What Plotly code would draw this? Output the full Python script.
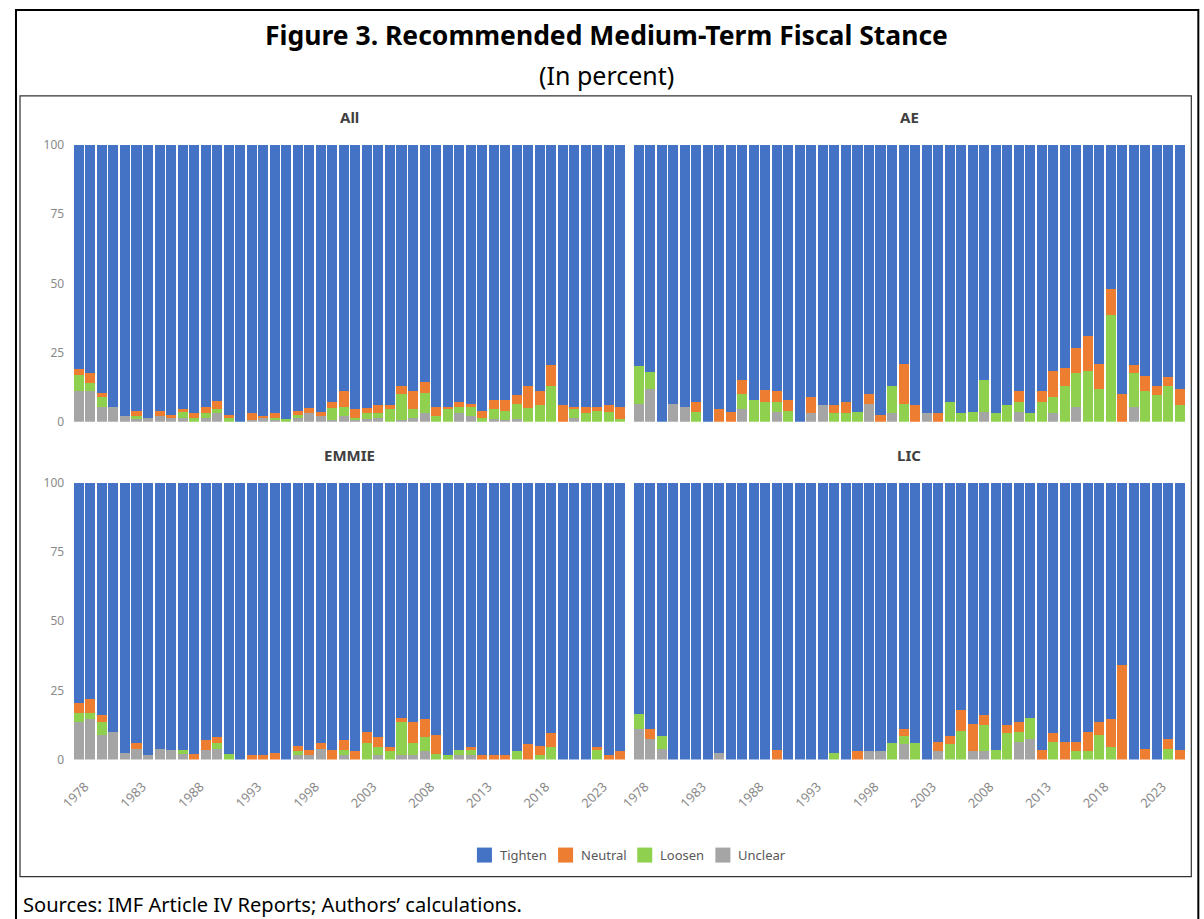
import plotly.graph_objects as go

W, H = 1204, 919

years = list(range(1978, 2026))
tick_years = [1978, 1983, 1988, 1993, 1998, 2003, 2008, 2013, 2018, 2023]
tick_labels = [str(y) for y in tick_years]
y_ticks = [0, 25, 50, 75, 100]

# ---- All ----
all_unclear = [11, 11, 5.5, 5.5, 2, 1, 1.5, 2, 1.5, 1.5, 0, 1.5, 3, 0, 0, 0.5, 1.5, 0.5, 0, 1.5, 3, 2, 0.5, 2,
               0.5, 1, 1.5, 0, 0.5, 1.5, 3, 0, 0, 3, 2, 0, 1, 0.5, 1, 0, 0, 0, 0, 1.5, 0, 0, 0, 0]
all_loosen = [6, 3, 3.5, 0, 0, 1, 0, 0, 0, 2, 1.5, 1.5, 1.5, 1.5, 0, 0, 0, 1, 1, 1, 0, 0, 4.5, 3.5,
              1, 2, 1.5, 4.5, 9.5, 3, 7.5, 2, 5, 2.5, 3.5, 1.5, 3.5, 3.5, 5.5, 5, 6, 13, 0, 3, 3, 4, 3.5, 1]
all_neutral = [2, 3.5, 1.5, 0, 0, 2, 0, 2, 1, 1, 1.5, 2.5, 3, 1, 0, 2.5, 0.5, 1.5, 0, 1.5, 2, 1.5, 2, 5.5,
               3, 2, 3, 1.5, 3, 6.5, 4, 3.5, 0.5, 1.5, 1, 2.5, 3.5, 4, 3, 8, 5, 7.5, 6, 1, 2.5, 1.5, 2.5, 4.5]
all_tighten = [81, 82.5, 89.5, 94.5, 98, 96, 98.5, 96, 97.5, 95.5, 97, 94.5, 92.5, 97.5, 100, 97, 98, 97, 99, 96, 95, 96.5, 93, 89,
               95.5, 95, 94, 94, 87, 89, 85.5, 94.5, 94.5, 93, 93.5, 96, 92, 92, 90.5, 87, 89, 79.5, 94, 94.5, 94.5, 94.5, 94, 94.5]

# ---- AE ----
ae_unclear = [6.5, 12, 0, 6.5, 5.5, 0, 0, 0, 0, 4.5, 0, 0, 3.5, 0, 0, 3, 6, 0, 0, 0, 6.5, 0, 3, 0,
              0, 3, 0, 0, 0, 0, 3.5, 0, 0, 3.5, 0, 0, 3, 0, 5.5, 0, 0, 0, 0, 5.5, 0, 0, 0, 0]
ae_loosen = [13.5, 6, 0, 0, 0, 3.5, 0, 0, 0, 5.5, 8, 7, 3.5, 4, 0, 0, 0, 3, 3, 3.5, 0, 0, 10, 6.5,
             0, 0, 0, 7, 3, 3.5, 11.5, 3, 6, 3.5, 3, 7, 6, 13, 12, 18.5, 12, 38.5, 0, 12, 11, 9.5, 13, 6]
ae_neutral = [0, 0, 0, 0, 0, 3.5, 0, 4.5, 3.5, 5, 0, 4.5, 4, 4, 0, 6, 0, 3, 4, 0, 3.5, 2.5, 0, 14.5,
              6, 0, 3, 0, 0, 0, 0, 0, 0, 4, 0, 4, 9.5, 6.5, 9, 12.5, 9, 9.5, 10, 3, 5.5, 3.5, 3, 6]
ae_tighten = [80, 82, 100, 93.5, 94.5, 93, 100, 95.5, 96.5, 85, 92, 88.5, 89, 92, 100, 91, 94, 94, 93, 96.5, 90, 97.5, 87, 79,
              94, 97, 97, 93, 97, 96.5, 85, 97, 94, 89, 97, 89, 81.5, 80.5, 73.5, 69, 79, 52, 90, 79.5, 83.5, 87, 84, 88]

# ---- EMMIE ----
em_unclear = [13.5, 14.5, 9, 10, 2.5, 4, 1.5, 4, 3.5, 2, 0, 3.5, 4, 0, 0, 0, 0, 0, 0, 1.5, 1.5, 4, 0, 1.5,
              0, 0, 1.5, 0, 1.5, 1.5, 3, 0, 0, 1.5, 1.5, 0, 0, 0, 0, 0, 0, 0, 0, 0, 0, 0, 0, 0]
em_loosen = [3.5, 2.5, 4.5, 0, 0, 0, 0, 0, 0, 1.5, 0, 0, 2, 2, 0, 0, 0, 0, 0, 1.5, 0, 0, 0, 2,
             0, 6, 3, 3, 12, 4.5, 5, 2, 1.5, 2, 2, 0, 0, 0, 3, 0, 1.5, 4.5, 0, 0, 0, 3.5, 0, 0]
em_neutral = [3.5, 5, 2.5, 0, 0, 2, 0, 0, 0, 0, 2, 3.5, 2, 0, 0, 1.5, 1.5, 2.5, 0, 2, 2, 2, 3.5, 3.5,
              3, 4, 3.5, 1.5, 1.5, 7.5, 6.5, 7, 0, 0, 1, 1.5, 1.5, 1.5, 0, 5.5, 3.5, 5, 0, 0, 0, 1, 1.5, 3]
em_tighten = [79.5, 78, 84, 90, 97.5, 94, 98.5, 96, 96.5, 96.5, 98, 93, 92, 98, 100, 98.5, 98.5, 97.5, 100, 95, 96.5, 94, 96.5, 93,
              97, 90, 92, 95.5, 85, 86.5, 85.5, 91, 98.5, 96.5, 95.5, 98.5, 98.5, 98.5, 97, 94.5, 95, 90.5, 100, 100, 100, 95.5, 98.5, 97]

# ---- LIC ----
lic_unclear = [11, 7.5, 4, 0, 0, 0, 0, 2.5, 0, 0, 0, 0, 0, 0, 0, 0, 0, 0, 0, 0, 3, 3, 0, 5.5,
               0, 0, 3, 0, 0, 3, 3, 0, 0, 6.5, 7.5, 0, 0, 0, 0, 0, 0, 0, 0, 0, 0, 0, 0, 0]
lic_loosen = [5.5, 0, 4.5, 0, 0, 0, 0, 0, 0, 0, 0, 0, 0, 0, 0, 0, 0, 2.5, 0, 0, 0, 0, 6, 3,
              6, 0, 0, 5.5, 10.5, 0, 9.5, 3.5, 9.5, 3.5, 7.5, 0, 6.5, 0, 3, 3, 9, 4.5, 0, 0, 0, 0, 4, 0]
lic_neutral = [0, 3.5, 0, 0, 0, 0, 0, 0, 0, 0, 0, 0, 3.5, 0, 0, 0, 0, 0, 0, 3, 0, 0, 0, 2.5,
               0, 0, 3.5, 3, 7.5, 10, 3.5, 0, 3, 3.5, 0, 3.5, 3, 6.5, 3.5, 7, 4.5, 10, 34, 0, 4, 0, 3.5, 3.5]
lic_tighten = [83.5, 89, 91.5, 100, 100, 100, 100, 97.5, 100, 100, 100, 100, 96.5, 100, 100, 100, 100, 97.5, 100, 97, 97, 97, 94, 89,
               94, 100, 93.5, 91.5, 82, 87, 84, 96.5, 87.5, 86.5, 85, 96.5, 90.5, 93.5, 93.5, 90, 86.5, 85.5, 66, 100, 96, 100, 92.5, 96.5]

panels = [
    ("All", all_unclear, all_loosen, all_neutral, all_tighten),
    ("AE", ae_unclear, ae_loosen, ae_neutral, ae_tighten),
    ("EMMIE", em_unclear, em_loosen, em_neutral, em_tighten),
    ("LIC", lic_unclear, lic_loosen, lic_neutral, lic_tighten),
]

series_names = ["Unclear", "Loosen", "Neutral", "Tighten"]
legend_names = ["Tighten", "Neutral", "Loosen", "Unclear"]
colors = {"Tighten": "#4472C4", "Neutral": "#ED7D31", "Loosen": "#8FD14F", "Unclear": "#A5A5A5"}

# the captured picture is offset/squeezed relative to page pixels
# (x_pic ~ 16 + 0.9856 * x_page, y_pic ~ 9 + 0.982 * y_page);
# targets below are given in picture pixels and mapped back to page pixels.
VX0, VXS = 16.0, 0.9856
VY0, VYS = 9.0, 0.982


def px(x):
    xp = (x - VX0) / VXS
    return xp / W


def py(y):
    yp = (y - VY0) / VYS
    return 1 - yp / H


x_domains = [(74, 626), (633, 1184)]
y_domains = [(145, 422), (483, 760)]
title_rows = [117, 455]

fig = go.Figure()
axis_ids = ["", "2", "3", "4"]
FONT = "Noto Sans"
TICK_COLOR = "#8a8a8a"

for k, (name, unc, loo, neu, tig) in enumerate(panels):
    row, col = divmod(k, 2)
    aid = axis_ids[k]
    xref = "x" + aid
    yref = "y" + aid
    for sname, vals in zip(series_names, [unc, loo, neu, tig]):
        fig.add_trace(go.Bar(
            x=years, y=vals, name=sname, marker=dict(color=colors[sname], line=dict(width=0)),
            xaxis=xref, yaxis=yref, showlegend=False,
            hovertemplate="%{x}: %{y}<extra>" + sname + "</extra>",
        ))
    xd = x_domains[col]
    yd = y_domains[row]
    xa = dict(domain=[px(xd[0]), px(xd[1])], range=[1977.5, 2025.5], anchor=yref,
              showgrid=False, zeroline=False, showline=False,
              tickmode="array", tickvals=tick_years, ticktext=tick_labels,
              tickangle=-45, tickfont=dict(family=FONT, size=13, color=TICK_COLOR),
              showticklabels=(row == 1), ticks="", ticklabelstandoff=16, ticklabelshift=6)
    ya = dict(domain=[py(yd[1]), py(yd[0])], range=[0, 100], anchor=xref,
              showgrid=False, zeroline=False, showline=False,
              tickmode="array", tickvals=y_ticks, ticktext=[str(v) for v in y_ticks],
              tickfont=dict(family=FONT, size=12, color=TICK_COLOR),
              showticklabels=(col == 0), ticks="", ticklabelstandoff=8)
    fig.update_layout(**{"xaxis" + aid: xa, "yaxis" + aid: ya})
    fig.add_annotation(text="<b>" + name + "</b>", x=px((xd[0] + xd[1]) / 2), y=py(title_rows[row]),
                       xref="paper", yref="paper", showarrow=False,
                       font=dict(family=FONT, size=15, color="#404040"), xanchor="center", yanchor="middle")

# titles and notes
fig.add_annotation(text="<b>Figure 3. Recommended Medium-Term Fiscal Stance</b>", x=px(606), y=py(35),
                   xref="paper", yref="paper", showarrow=False, xanchor="center", yanchor="middle",
                   font=dict(family=FONT, size=26.5, color="#000000"))
fig.add_annotation(text="(In percent)", x=px(606), y=py(75),
                   xref="paper", yref="paper", showarrow=False, xanchor="center", yanchor="middle",
                   font=dict(family=FONT, size=25, color="#000000"))
fig.add_annotation(text="Sources: IMF Article IV Reports; Authors’ calculations.", x=px(22), y=py(905),
                   xref="paper", yref="paper", showarrow=False, xanchor="left", yanchor="middle",
                   font=dict(family=FONT, size=20.1, color="#000000"))

# legend (drawn by hand to match the compact spacing of the original)
legend_box_x = [477, 558, 637, 715]
for name, bx in zip(legend_names, legend_box_x):
    fig.add_shape(type="rect", xref="paper", yref="paper", x0=px(bx), x1=px(bx + 15),
                  y0=py(863), y1=py(848), fillcolor=colors[name], line=dict(width=0))
    fig.add_annotation(text=name, x=px(bx + 21), y=py(855), xref="paper", yref="paper",
                       showarrow=False, xanchor="left", yanchor="middle",
                       font=dict(family=FONT, size=13, color="#595959"))

# frames
fig.add_shape(type="rect", xref="paper", yref="paper", x0=max(px(7), 1.0 / W), x1=px(1197),
              y0=-0.05, y1=1 - 1 / H, line=dict(color="#000000", width=2), layer="above")
fig.add_shape(type="rect", xref="paper", yref="paper", x0=px(21), x1=px(1190), y0=py(877), y1=py(96),
              line=dict(color="#333333", width=1.2), layer="above")

fig.update_layout(
    width=W, height=H, margin=dict(l=0, r=0, t=0, b=0),
    paper_bgcolor="white", plot_bgcolor="white",
    barmode="stack", bargap=0.13,
    showlegend=False,
    font=dict(family=FONT),
)

js = ("document.body.style.margin='0';"
      "document.documentElement.style.overflow='hidden';"
      "document.body.style.overflow='hidden';")
fig.write_html("out.html", config={"displayModeBar": False}, post_script=js)
